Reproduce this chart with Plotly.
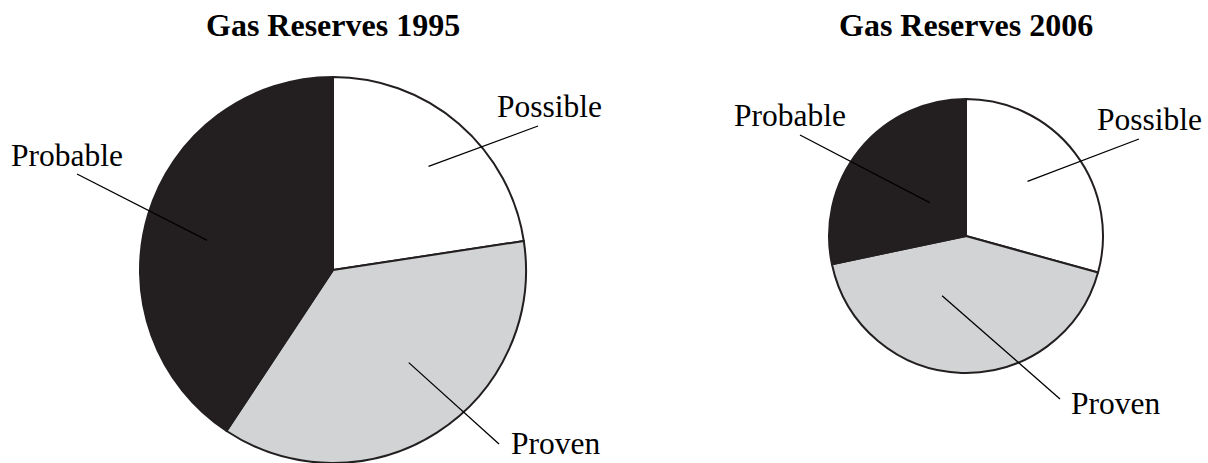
import math
import plotly.graph_objects as go

W, H = 1208, 463

# ---- data ----
categories = ["Possible", "Proven", "Probable"]
reserves_1995 = [22.6, 36.7, 40.7]
reserves_2006 = [29.3, 42.4, 28.3]
chart_titles = ["Gas Reserves 1995", "Gas Reserves 2006"]

# ---- styles / layout ----
slice_colors = ["#ffffff", "#d1d3d4", "#231f20"]
edge_color = "#231f20"
FONT = "Liberation Serif, Times New Roman, serif"

pies = [
    dict(values=reserves_1995, title=chart_titles[0], cx=333, cy=270, r=193,
         # label placement: text left x, text y (anchor), leader outer end, leader inner radius frac, angle offset
         labels={
             "Possible": dict(tx=495, ty=106, ya="middle", ox=538, oy=126, frac=0.73, dang=2),
             "Proven": dict(tx=509, ty=463, ya="bottom", ox=499, oy=444, frac=0.62, dang=-6.7),
             "Probable": dict(tx=9, ty=155, ya="middle", ox=77, oy=174, frac=0.67, dang=-3.5),
         }),
    dict(values=reserves_2006, title=chart_titles[1], cx=966, cy=236, r=137,
         labels={
             "Possible": dict(tx=1095, ty=119, ya="middle", ox=1139, oy=139, frac=0.60, dang=-4.3),
             "Proven": dict(tx=1069, ty=403, ya="middle", ox=1060, oy=399, frac=0.47, dang=20),
             "Probable": dict(tx=732, ty=115, ya="middle", ox=800, oy=135, frac=0.36, dang=3.5),
         }),
]


def px(x):
    return x / W


def py(y):
    return 1 - y / H


fig = go.Figure()
annotations = []
shapes = []

for p in pies:
    cx, cy, r = p["cx"], p["cy"], p["r"]
    fig.add_trace(go.Pie(
        labels=categories,
        values=p["values"],
        sort=False,
        direction="clockwise",
        rotation=0,
        textinfo="none",
        hoverinfo="label+value",
        marker=dict(colors=slice_colors, line=dict(color=edge_color, width=2)),
        domain=dict(x=[px(cx - r), px(cx + r)], y=[py(cy + r), py(cy - r)]),
        showlegend=False,
    ))
    annotations.append(dict(
        text="<b>%s</b>" % p["title"], x=px(cx), y=py(25), xref="paper", yref="paper",
        xanchor="center", yanchor="middle", showarrow=False,
        font=dict(family=FONT, size=32, color="#000000"),
    ))
    total = sum(p["values"])
    start = 0.0
    for cat, val in zip(categories, p["values"]):
        span = 360.0 * val / total
        mid = start + span / 2
        start += span
        lab = p["labels"][cat]
        ang = math.radians(mid + lab["dang"])
        ix = cx + lab["frac"] * r * math.sin(ang)
        iy = cy - lab["frac"] * r * math.cos(ang)
        shapes.append(dict(
            type="line", xref="paper", yref="paper",
            x0=px(ix), y0=py(iy), x1=px(lab["ox"]), y1=py(lab["oy"]),
            line=dict(color="#000000", width=1.3),
        ))
        annotations.append(dict(
            text=cat, x=px(lab["tx"]), y=py(lab["ty"]), xref="paper", yref="paper",
            xanchor="left", yanchor=lab["ya"], showarrow=False,
            font=dict(family=FONT, size=31.5, color="#000000"),
        ))

fig.update_layout(
    width=W, height=H,
    margin=dict(l=0, r=0, t=0, b=0),
    paper_bgcolor="white", plot_bgcolor="white",
    annotations=annotations,
    shapes=shapes,
)

fig.write_html(
    "out.html",
    config={"displayModeBar": False},
    post_script="document.body.style.margin='0';document.body.style.overflow='hidden';"
                "document.documentElement.style.overflow='hidden';",
)
